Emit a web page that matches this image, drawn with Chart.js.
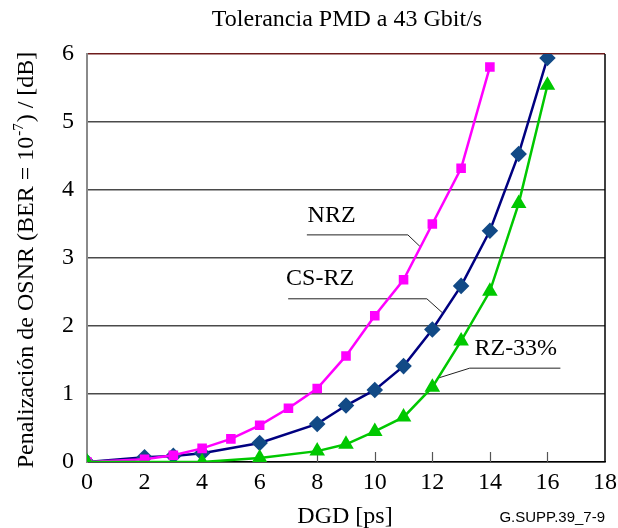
<!DOCTYPE html>
<html><head><meta charset="utf-8">
<script src="https://cdn.jsdelivr.net/npm/chart.js@4/dist/chart.umd.min.js"></script>
<style>html,body{margin:0;padding:0;background:#fff}</style>
</head><body>
<canvas id="c" width="618" height="528"></canvas>
<script>
const chartTitle = 'Tolerancia PMD a 43 Gbit/s';
const xAxisTitle = 'DGD [ps]';
const yAxisTitleParts = ['Penalización de OSNR (BER = 10', '-7', ') / [dB]'];
const figureId = 'G.SUPP.39_7-9';

const nrzX = [0, 2, 3, 4, 5, 6, 7, 8, 9, 10, 11, 12, 13, 14];
const nrzY = [0, 0.04, 0.10, 0.20, 0.34, 0.54, 0.79, 1.08, 1.56, 2.15, 2.68, 3.50, 4.32, 5.81];
const csrzX = [0, 2, 3, 4, 6, 8, 9, 10, 11, 12, 13, 14, 15, 16];
const csrzY = [0, 0.07, 0.09, 0.13, 0.28, 0.56, 0.83, 1.06, 1.41, 1.95, 2.59, 3.40, 4.53, 5.94];
const rzX = [0, 4, 6, 8, 9, 10, 11, 12, 13, 14, 15, 16];
const rzY = [0, 0, 0.06, 0.16, 0.26, 0.45, 0.66, 1.10, 1.78, 2.51, 3.80, 5.54];

const seriesNames = ['NRZ', 'CS-RZ', 'RZ-33%'];
// annotation anchors in data units: text centre, leader polyline
const labelPos = [[8.5, 3.62], [8.1, 2.70], [14.9, 1.67]];
const leaders = [
  [[7.64, 3.34], [11.15, 3.34], [11.57, 3.17]],
  [[6.99, 2.40], [11.81, 2.40], [12.35, 2.195]],
  [[16.45, 1.38], [13.30, 1.38], [12.17, 1.23]]
];
const xTickMarks = [2, 4, 6, 8, 10, 12, 14, 16];

const pts = (xs, ys) => xs.map((x, i) => ({x: x, y: ys[i]}));
const SERIF = "'Liberation Serif', 'Times New Roman', serif";

const decor = {
  id: 'decor',
  beforeDatasetsDraw(chart) {
    const {ctx, chartArea: a, scales: {x}} = chart;
    ctx.save();
    ctx.strokeStyle = '#555';
    ctx.lineWidth = 1.2;
    xTickMarks.forEach(v => {
      const px = Math.round(x.getPixelForValue(v)) + 0.5;
      ctx.beginPath(); ctx.moveTo(px, a.bottom); ctx.lineTo(px, a.bottom - 10); ctx.stroke();
    });
    ctx.strokeStyle = '#000';
    ctx.lineWidth = 1.5;
    ctx.beginPath(); ctx.moveTo(a.right, a.top); ctx.lineTo(a.right, a.bottom); ctx.stroke();
    // leader lines
    ctx.strokeStyle = '#222';
    ctx.lineWidth = 1;
    leaders.forEach(l => {
      ctx.beginPath();
      l.forEach((p, i) => {
        const px = chart.scales.x.getPixelForValue(p[0]);
        const py = chart.scales.y.getPixelForValue(p[1]);
        if (i === 0) ctx.moveTo(px, py); else ctx.lineTo(px, py);
      });
      ctx.stroke();
    });
    ctx.restore();
  },
  afterDraw(chart) {
    const {ctx, chartArea: a, scales: {x, y}} = chart;
    ctx.save();
    ctx.fillStyle = '#000';
    // title
    ctx.font = '24px ' + SERIF;
    ctx.textAlign = 'center';
    ctx.textBaseline = 'alphabetic';
    ctx.fillText(chartTitle, 347, 26);
    // x title
    ctx.fillText(xAxisTitle, 345, 523);
    // series labels
    seriesNames.forEach((n, i) => {
      ctx.textBaseline = 'middle';
      ctx.fillText(n, x.getPixelForValue(labelPos[i][0]), y.getPixelForValue(labelPos[i][1]));
    });
    // figure id
    ctx.font = '15px "Liberation Sans", Arial, sans-serif';
    ctx.textAlign = 'right';
    ctx.textBaseline = 'alphabetic';
    ctx.fillText(figureId, 605, 522);
    // y title with superscript
    const mainF = '24px ' + SERIF, supF = '15px ' + SERIF;
    ctx.font = mainF; const w0 = ctx.measureText(yAxisTitleParts[0]).width;
    const w2 = ctx.measureText(yAxisTitleParts[2]).width;
    ctx.font = supF; const w1 = ctx.measureText(yAxisTitleParts[1]).width + 2;
    const total = w0 + w1 + w2;
    ctx.translate(33, 260);
    ctx.rotate(-Math.PI / 2);
    ctx.textAlign = 'left';
    let cx = -total / 2;
    ctx.font = mainF; ctx.fillText(yAxisTitleParts[0], cx, 0); cx += w0 + 1;
    ctx.font = supF; ctx.fillText(yAxisTitleParts[1], cx, -10); cx += w1 - 1;
    ctx.font = mainF; ctx.fillText(yAxisTitleParts[2], cx, 0);
    ctx.restore();
  }
};

new Chart(document.getElementById('c'), {
  type: 'line',
  data: {
    datasets: [
      {label: seriesNames[0], data: pts(nrzX, nrzY), borderColor: '#FF00FF', backgroundColor: '#FF00FF',
       pointStyle: 'rect', pointRadius: 5, borderWidth: 2.5, order: 1},
      {label: seriesNames[1], data: pts(csrzX, csrzY), borderColor: '#000080', backgroundColor: '#124A86',
       pointBorderColor: '#124A86', pointStyle: 'rectRot', pointRadius: 6.5, borderWidth: 2.5, order: 2},
      {label: seriesNames[2], data: pts(rzX, rzY), borderColor: '#00C800', backgroundColor: '#00C800',
       pointStyle: 'triangle', pointRadius: 6.5, borderWidth: 2.5, order: 0}
    ]
  },
  options: {
    responsive: false,
    animation: false,
    devicePixelRatio: 1,
    layout: {padding: {top: 54, right: 13, left: 0, bottom: 0}},
    plugins: {legend: {display: false}, title: {display: false}, tooltip: {enabled: false}},
    elements: {line: {tension: 0}, point: {borderWidth: 1}},
    scales: {
      x: {
        type: 'linear', min: 0, max: 18,
        ticks: {stepSize: 2, color: '#000', font: {family: SERIF, size: 24}, padding: 6, maxRotation: 0},
        grid: {display: false, drawTicks: false},
        border: {display: true, color: '#000', width: 1.5},
        afterFit: s => { s.height = 66; s.paddingLeft = 0; s.paddingRight = 0; }
      },
      y: {
        min: 0, max: 6,
        ticks: {stepSize: 1, color: '#000', font: {family: SERIF, size: 24}, padding: 13},
        grid: {drawTicks: false, lineWidth: 1.5,
               color: c => c.tick && c.tick.value === 6 ? '#6e1c1c' : '#4a4a4a'},
        border: {display: true, color: '#8a8a8a', width: 2},
        afterFit: s => { s.width = 87; s.paddingTop = 0; s.paddingBottom = 0; }
      }
    }
  },
  plugins: [decor]
});
</script>
</body></html>
